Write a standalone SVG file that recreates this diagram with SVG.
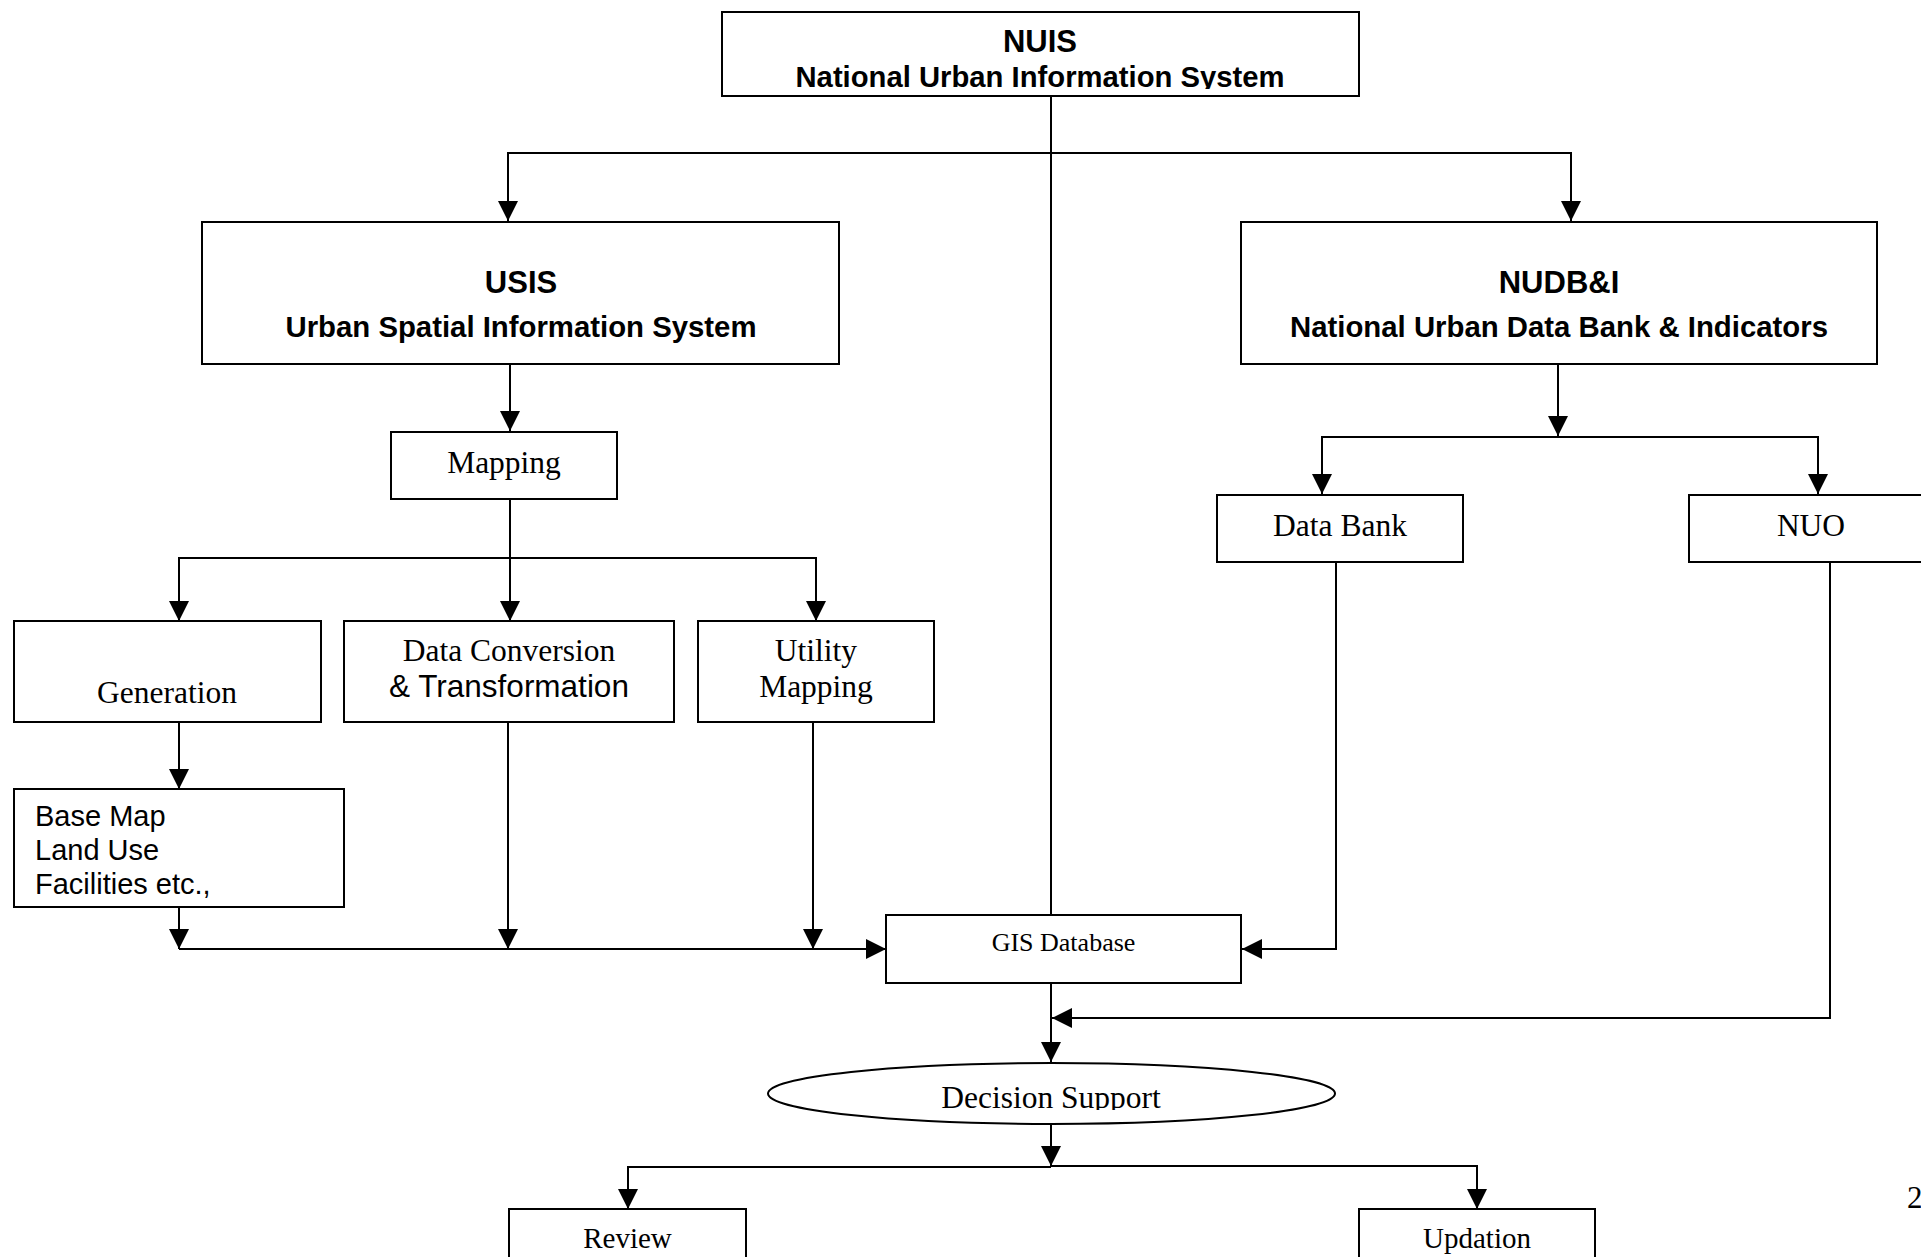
<svg xmlns="http://www.w3.org/2000/svg" width="1921" height="1257" viewBox="0 0 1921 1257">
  <style>
    .box { fill: #ffffff; stroke: #000000; stroke-width: 2; }
    .wire { fill: none; stroke: #000000; stroke-width: 2; }
    .arrow { fill: none; stroke: #000000; stroke-width: 2; marker-end: url(#head); }
    .hb { font-family: "Liberation Sans", Arial, sans-serif; font-weight: bold; fill: #000000; text-anchor: middle; }
    .hs { font-family: "Liberation Sans", Arial, sans-serif; fill: #000000; }
    .tr { font-family: "Liberation Serif", "Times New Roman", serif; fill: #000000; text-anchor: middle; font-size: 31.5px; }
  </style>
  <defs>
    <marker id="head" markerUnits="userSpaceOnUse" markerWidth="20" markerHeight="20" refX="20" refY="10" orient="auto">
      <path d="M0,0 L20,10 L0,20 Z" fill="#000000"/>
    </marker>
    <!-- text clipped just below its baseline, so descenders are cut off -->
    <clipPath id="clipNuis"><rect x="700" y="14" width="680" height="75"/></clipPath>
    <clipPath id="clipDecision"><rect x="770" y="1064" width="560" height="46"/></clipPath>
  </defs>
  <rect width="1921" height="1257" fill="#ffffff"/>

  <!-- connectors -->
  <g id="connectors">
    <line class="wire" x1="1051" y1="96" x2="1051" y2="915"/>
    <path class="arrow" d="M1051,153 H508 V221"/>
    <path class="arrow" d="M1051,153 H1571 V221"/>
    <path class="arrow" d="M510,364 V431"/>
    <path class="arrow" d="M510,499 V621"/>
    <path class="arrow" d="M510,558 H179 V621"/>
    <path class="arrow" d="M510,558 H816 V621"/>
    <path class="arrow" d="M179,722 V789"/>
    <path class="arrow" d="M179,907 V949"/>
    <path class="arrow" d="M508,722 V949"/>
    <path class="arrow" d="M813,722 V949"/>
    <path class="arrow" d="M179,949 H886"/>
    <path class="arrow" d="M1558,364 V436"/>
    <path class="arrow" d="M1558,437 H1322 V494"/>
    <path class="arrow" d="M1558,437 H1818 V494"/>
    <path class="arrow" d="M1336,562 V949 H1242"/>
    <path class="arrow" d="M1830,562 V1018 H1052"/>
    <path class="arrow" d="M1051,983 V1062"/>
    <path class="arrow" d="M1051,1124 V1166"/>
    <path class="arrow" d="M1051,1167 H628 V1209"/>
    <path class="arrow" d="M1051,1166 H1477 V1209"/>
  </g>

  <g id="nuis">
    <rect class="box" x="722" y="12" width="637" height="84"/>
    <text class="hb" x="1040" y="52" font-size="31">NUIS</text>
    <text class="hb" x="1040" y="87" font-size="29" textLength="489" lengthAdjust="spacingAndGlyphs" clip-path="url(#clipNuis)">National Urban Information System</text>
  </g>

  <g id="usis">
    <rect class="box" x="202" y="222" width="637" height="142"/>
    <text class="hb" x="521" y="293" font-size="31">USIS</text>
    <text class="hb" x="521" y="337" font-size="29" textLength="471" lengthAdjust="spacingAndGlyphs">Urban Spatial Information System</text>
  </g>

  <g id="nudbi">
    <rect class="box" x="1241" y="222" width="636" height="142"/>
    <text class="hb" x="1559" y="293" font-size="31">NUDB&amp;I</text>
    <text class="hb" x="1559" y="337" font-size="29" textLength="538" lengthAdjust="spacingAndGlyphs">National Urban Data Bank &amp; Indicators</text>
  </g>

  <g id="mapping">
    <rect class="box" x="391" y="432" width="226" height="67"/>
    <text class="tr" x="504" y="473">Mapping</text>
  </g>

  <g id="generation">
    <rect class="box" x="14" y="621" width="307" height="101"/>
    <text class="tr" x="167" y="703">Generation</text>
  </g>

  <g id="data-conversion">
    <rect class="box" x="344" y="621" width="330" height="101"/>
    <text class="tr" x="509" y="661">Data Conversion</text>
    <text class="hs" x="509" y="697" font-size="31.5" text-anchor="middle">&amp; Transformation</text>
  </g>

  <g id="utility-mapping">
    <rect class="box" x="698" y="621" width="236" height="101"/>
    <text class="tr" x="816" y="661">Utility</text>
    <text class="tr" x="816" y="697">Mapping</text>
  </g>

  <g id="base-map">
    <rect class="box" x="14" y="789" width="330" height="118"/>
    <text class="hs" x="35" y="826" font-size="29">Base Map</text>
    <text class="hs" x="35" y="860" font-size="29">Land Use</text>
    <text class="hs" x="35" y="893.5" font-size="29">Facilities etc.,</text>
  </g>

  <g id="data-bank">
    <rect class="box" x="1217" y="495" width="246" height="67"/>
    <text class="tr" x="1340" y="536">Data Bank</text>
  </g>

  <g id="nuo">
    <rect class="box" x="1689" y="495" width="250" height="67"/>
    <text class="tr" x="1811" y="536">NUO</text>
  </g>

  <g id="gis-database">
    <rect class="box" x="886" y="915" width="355" height="68"/>
    <text class="tr" x="1063.5" y="951" style="font-size:26px">GIS Database</text>
  </g>

  <g id="decision-support">
    <ellipse class="box" cx="1051.5" cy="1093.5" rx="283.5" ry="30.5"/>
    <text class="tr" x="1051" y="1108" clip-path="url(#clipDecision)">Decision Support</text>
  </g>

  <g id="review">
    <rect class="box" x="509" y="1209" width="237" height="70"/>
    <text class="tr" x="627.5" y="1248" style="font-size:29px">Review</text>
  </g>

  <g id="updation">
    <rect class="box" x="1359" y="1209" width="236" height="70"/>
    <text class="tr" x="1477" y="1248" style="font-size:29px">Updation</text>
  </g>

  <!-- page number -->
  <text x="1907" y="1208" font-family="Liberation Serif, 'Times New Roman', serif" font-size="31" fill="#000000">2</text>
</svg>
